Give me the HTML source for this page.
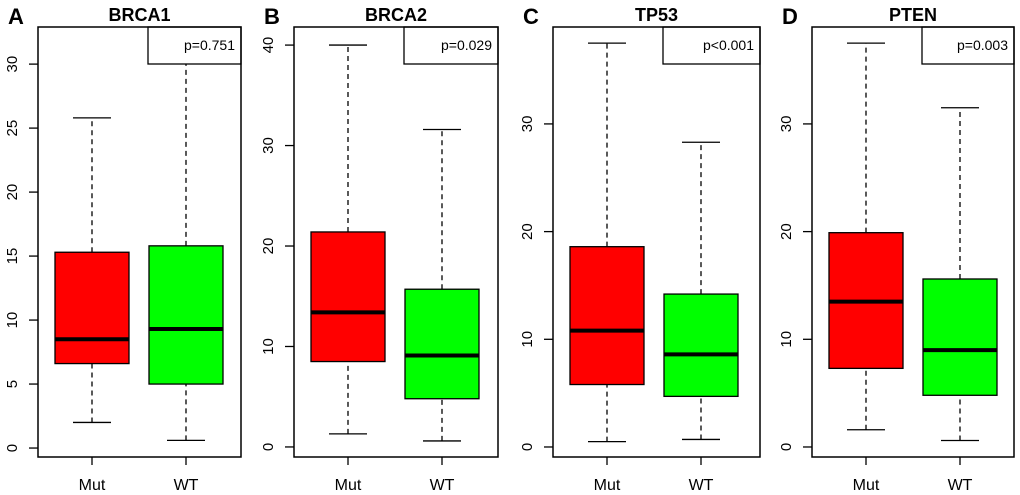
<!DOCTYPE html>
<html><head><meta charset="utf-8"><style>
body{margin:0;background:#fff;}
svg{font-family:"Liberation Sans",Arial,sans-serif;display:block}
</style></head><body>
<svg id="chart" width="1020" height="495"></svg>
<script>
const genes=["BRCA1","BRCA2","TP53","PTEN"];
const letters=["A","B","C","D"];
const pvals=["p=0.751","p=0.029","p<0.001","p=0.003"];
const groups=["Mut","WT"];
// [lowerWhisker, q1, median, q3, upperWhisker]
const mutStats=[[2,6.6,8.5,15.3,25.8],[1.3,8.5,13.4,21.4,40],[0.5,5.8,10.8,18.6,37.5],[1.6,7.3,13.5,19.9,37.5]];
const wtStats=[[0.6,5,9.3,15.8,32.5],[0.6,4.8,9.1,15.7,31.6],[0.7,4.7,8.6,14.2,28.3],[0.6,4.8,9,15.6,31.5]];
const yTicks=[[0,5,10,15,20,25,30],[0,10,20,30,40],[0,10,20,30],[0,10,20,30]];
const yLims=[[-0.7,32.9],[-1,41.8],[-0.93,39],[-0.93,39]];
const lefts=[38,294,553,812],rights=[241,498,760,1014];
const plotTop=27,plotBottom=457;
const svgEl=document.getElementById('chart');
const NS="http://www.w3.org/2000/svg";
function mk(t,a,p){const e=document.createElementNS(NS,t);for(const k in a)e.setAttribute(k,a[k]);(p||svgEl).appendChild(e);return e;}
for(let i=0;i<4;i++){
  const L=lefts[i],R=rights[i],lim=yLims[i];
  const yScale=v=>plotBottom-(v-lim[0])/(lim[1]-lim[0])*(plotBottom-plotTop);
  const xc=[L+54,L+148];
  const g=mk('g',{});
  
  
  const lt=mk('text',{x:L-30,y:24,'font-size':22,'font-weight':'bold'},g);lt.textContent=letters[i];
  
  
  const tt=mk('text',{x:(L+R)/2,y:21,'font-size':18,'font-weight':'bold','text-anchor':'middle'},g);tt.textContent=genes[i];
  
  
  [mutStats[i],wtStats[i]].forEach((s,j)=>{
    const c=xc[j],col=j?'#00ff00':'#ff0000';
    const bg=mk('g',{},g);
    
    
    mk('line',{x1:c,x2:c,y1:yScale(s[0]),y2:yScale(s[1]),stroke:'#000','stroke-width':1.3,'stroke-dasharray':'5,4'},bg);
    mk('line',{x1:c,x2:c,y1:yScale(s[3]),y2:yScale(s[4]),stroke:'#000','stroke-width':1.3,'stroke-dasharray':'5,4'},bg);
    mk('line',{x1:c-19,x2:c+19,y1:yScale(s[0]),y2:yScale(s[0]),stroke:'#000','stroke-width':1.3},bg);
    mk('line',{x1:c-19,x2:c+19,y1:yScale(s[4]),y2:yScale(s[4]),stroke:'#000','stroke-width':1.3},bg);
    mk('rect',{x:c-37,y:yScale(s[3]),width:74,height:yScale(s[1])-yScale(s[3]),fill:col,stroke:'#000','stroke-width':1.3},bg);
    mk('line',{x1:c-37,x2:c+37,y1:yScale(s[2]),y2:yScale(s[2]),stroke:'#000','stroke-width':4},bg);
    mk('line',{x1:c,x2:c,y1:plotBottom,y2:plotBottom+8,stroke:'#000','stroke-width':1.3},g);
    const xl=mk('text',{x:c,y:490,'font-size':16,'text-anchor':'middle'},g);xl.textContent=groups[j];
    
    
  });
  const pb=mk('rect',{x:L+110,y:plotTop,width:R-L-110,height:37,fill:'#fff',stroke:'#000','stroke-width':1.3},g);
  
  
  const pt=mk('text',{x:R-6,y:plotTop+23,'font-size':14,'text-anchor':'end'},g);pt.textContent=pvals[i];
  
  
  mk('rect',{x:L,y:plotTop,width:R-L,height:plotBottom-plotTop,fill:'none',stroke:'#000','stroke-width':1.5},g);
  yTicks[i].forEach(v=>{
    mk('line',{x1:L-9,x2:L,y1:yScale(v),y2:yScale(v),stroke:'#000','stroke-width':1.3},g);
    const t=mk('text',{x:0,y:0,'font-size':15,'text-anchor':'middle',transform:`translate(${L-21},${yScale(v)}) rotate(-90)`},g);
    t.textContent=v;
    
    
  });
}
</script>
</body></html>
